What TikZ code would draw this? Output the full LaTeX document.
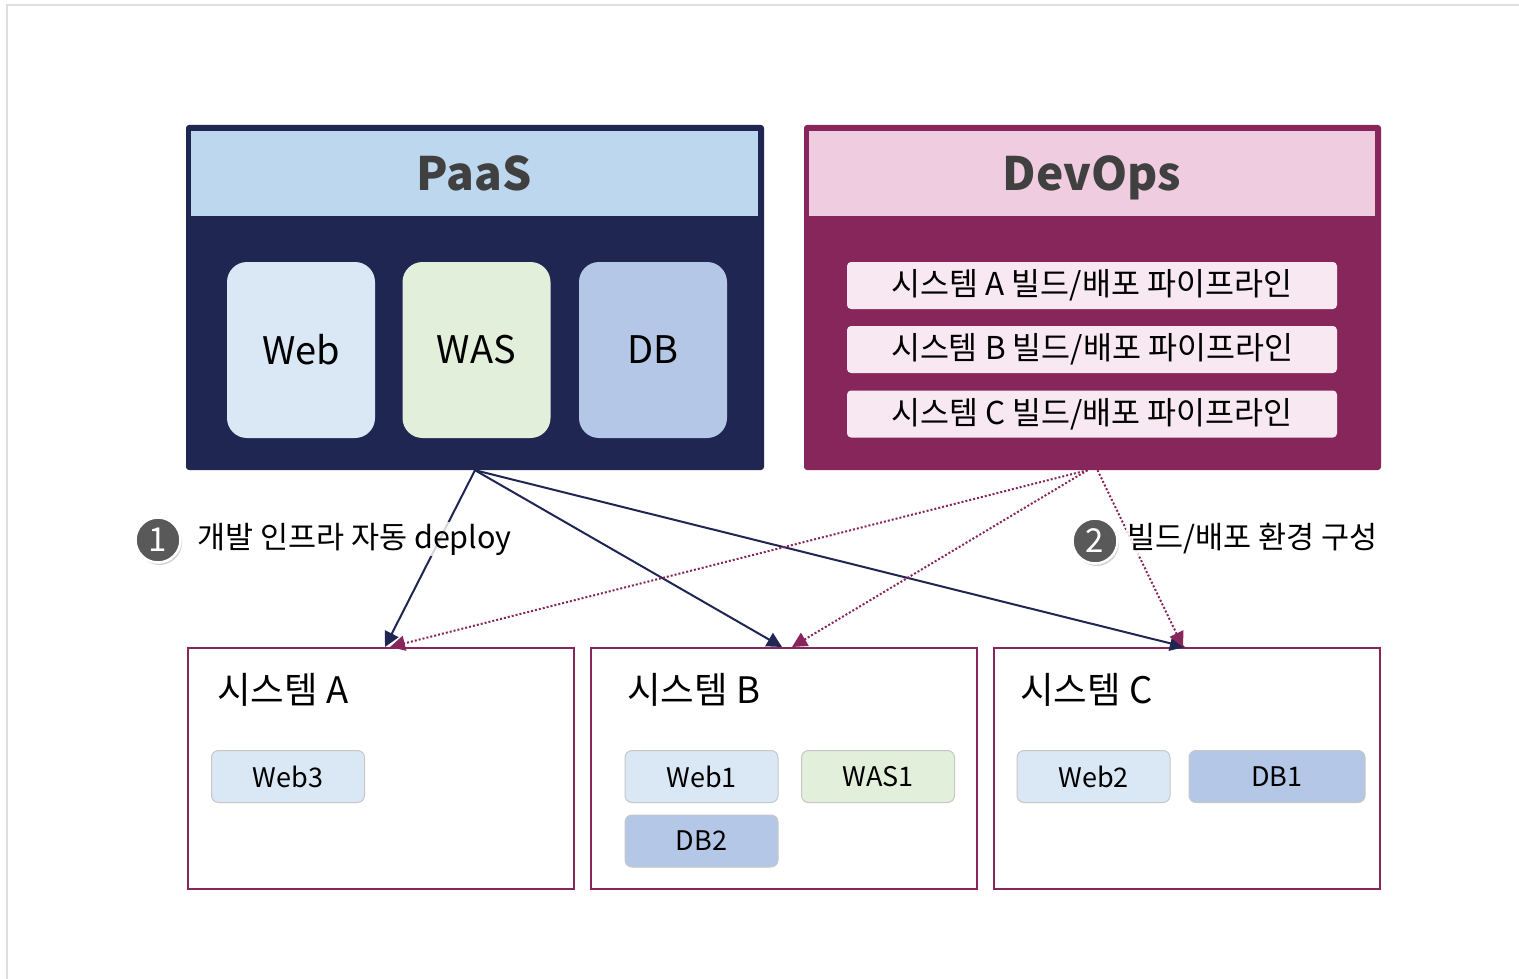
\documentclass[tikz,border=0pt]{standalone}
\usepackage{fontspec}
\setmainfont{Noto Sans CJK KR}
\usetikzlibrary{arrows.meta,shadows}

\definecolor{navy}{HTML}{1F2652}
\definecolor{plum}{HTML}{86265A}
\definecolor{headblue}{HTML}{BDD7EE}
\definecolor{headpink}{HTML}{F0CCE1}
\definecolor{webcol}{HTML}{DAE8F5}
\definecolor{wascol}{HTML}{E2EFDA}
\definecolor{dbcol}{HTML}{B4C7E7}
\definecolor{pipecol}{HTML}{F8E8F1}
\definecolor{titlegray}{HTML}{404040}

\begin{document}
\begin{tikzpicture}[x=1pt, y=-1pt,
  panel/.style = {rectangle, rounded corners=3pt, inner sep=0pt},
  header/.style = {rectangle, inner sep=0pt, minimum width=567pt, minimum height=85pt,
    text height=34pt, text depth=0pt,
    text=titlegray, font=\fontsize{46}{50}\selectfont\bfseries},
  tier/.style = {rectangle, rounded corners=20pt, minimum width=148pt, minimum height=176pt,
    font=\fontsize{38}{42}\selectfont},
  pipe/.style = {rectangle, rounded corners=4pt, fill=pipecol, minimum width=490pt,
    minimum height=47pt, font=\fontsize{31.5}{34}\selectfont},
  sysbox/.style = {rectangle, draw=plum, line width=2pt, fill=white, minimum width=386pt,
    minimum height=241pt},
  systitle/.style = {anchor=west, inner sep=0pt, font=\fontsize{36.5}{40}\selectfont},
  unit/.style = {rectangle, rounded corners=7pt, draw=black!22, line width=1pt,
    minimum width=153pt, minimum height=52pt, font=\fontsize{27}{30}\selectfont},
  badge/.style = {circle, fill=black!65, draw=white, line width=2.5pt, minimum size=45pt,
    inner sep=0pt, text=white, font=\fontsize{33}{35}\selectfont,
    drop shadow={shadow xshift=1.5pt, shadow yshift=-2.5pt, opacity=.35}},
  note/.style = {anchor=west, inner sep=1pt, fill=white, fill opacity=.8, text opacity=1,
    font=\fontsize{30.5}{34}\selectfont},
  deploy/.style = {navy, line width=2pt, -{Triangle[length=15pt,width=15pt]}},
  build/.style = {plum, line width=2pt, dotted, -{Triangle[length=15pt,width=15pt]}}
]

  % frame
  \useasboundingbox (0,0) rectangle (1519,979);
  \draw[black!13, line width=2pt] (1519,5) -- (7,5) -- (7,979);

  % PaaS
  \node[panel, fill=navy, minimum width=578pt, minimum height=345pt] (paas) at (475,297.5) {};
  \node[header, fill=headblue] (paashead) at (474.5,173.5) {PaaS};
  \node[tier, fill=webcol] (web) at (301,350) {Web};
  \node[tier, fill=wascol] (was) at (476.5,350) {WAS};
  \node[tier, fill=dbcol] (db) at (653,350) {DB};

  % DevOps
  \node[panel, fill=plum, minimum width=577pt, minimum height=345pt] (devops) at (1092.5,297.5) {};
  \node[header, fill=headpink, minimum width=566pt] (devhead) at (1092,173.5) {DevOps};
  \node[pipe] (pipeA) at (1092,285.5) {시스템 A 빌드/배포 파이프라인};
  \node[pipe] (pipeB) at (1092,349.5) {시스템 B 빌드/배포 파이프라인};
  \node[pipe] (pipeC) at (1092,414) {시스템 C 빌드/배포 파이프라인};

  % systems
  \node[sysbox] (sysA) at (381,768.5) {};
  \node[sysbox] (sysB) at (784,768.5) {};
  \node[sysbox] (sysC) at (1186.5,768.5) {};
  \node[systitle] (titleA) at (217,690) {시스템 A};
  \node[systitle] (titleB) at (627,690) {시스템 B};
  \node[systitle] (titleC) at (1020,690) {시스템 C};

  \node[unit, fill=webcol] (web3) at (288,776.5) {Web3};
  \node[unit, fill=webcol] (web1) at (701.5,776.5) {Web1};
  \node[unit, fill=wascol] (was1) at (878,776.5) {WAS1};
  \node[unit, fill=dbcol] (db2) at (701.5,841) {DB2};
  \node[unit, fill=webcol] (web2) at (1093.5,776.5) {Web2};
  \node[unit, fill=dbcol, minimum width=176pt] (db1) at (1277,776.5) {DB1};

  % connectors
  \draw[deploy] (paas.south) -- ([xshift=4pt]sysA.north);
  \draw[deploy] (paas.south) -- ([xshift=-2pt]sysB.north);
  \draw[deploy] (paas.south) -- ([xshift=-1.5pt]sysC.north);
  \draw[build] ([xshift=-5pt]devops.south) -- ([xshift=9pt]sysA.north);
  \draw[build] ([xshift=-5pt]devops.south) -- ([xshift=8pt]sysB.north);
  \draw[build] ([xshift=5pt]devops.south) -- ([xshift=-3.5pt]sysC.north);

  % labels
  \node[badge] (one) at (158,540) {1};
  \node[note] (noteone) at (196,539) {개발 인프라 자동 deploy};
  \node[badge] (two) at (1095,541) {2};
  \node[note] (notetwo) at (1126,539) {빌드/배포 환경 구성};

\end{tikzpicture}
\end{document}
